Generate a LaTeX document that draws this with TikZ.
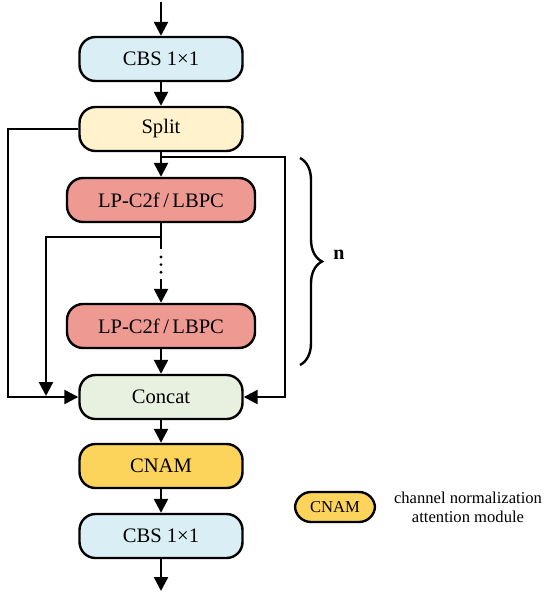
\documentclass[tikz,border=0pt]{standalone}
\usepackage{fontspec}
\setmainfont{Liberation Serif}
\usetikzlibrary{arrows.meta, positioning, decorations.pathreplacing}

\definecolor{cbsblue}{HTML}{DAEFF5}
\definecolor{splityellow}{HTML}{FFF2CD}
\definecolor{lpred}{HTML}{EE9A92}
\definecolor{concatgreen}{HTML}{E8F1DF}
\definecolor{cnamyellow}{HTML}{FCD35B}

\begin{document}
\begin{tikzpicture}[x=0.5pt, y=-0.5pt,
    block/.style={draw, line width=1.2pt, rounded corners=8pt, minimum width=81.5pt,
                  minimum height=22pt, inner sep=0pt, font=\fontsize{10.3}{12}\selectfont},
    arrow/.style={-{Triangle[length=7pt, width=7pt]}, line width=1.2pt},
    line/.style={line width=1.2pt},
    legend/.style={font=\fontsize{8.3}{9.5}\selectfont}
]
\useasboundingbox (0,0) rectangle (550,600);

% Main column
\node[block, fill=cbsblue] (cbsin) at (161,59) {CBS 1×1};
\node[block, fill=splityellow] (split) at (161,129) {Split};
\node[block, fill=lpred, minimum width=94pt] (lpa) at (161,200) {LP-C2f\,/\,LBPC};
\node[block, fill=lpred, minimum width=94pt] (lpb) at (161,326) {LP-C2f\,/\,LBPC};
\node[block, fill=concatgreen] (concat) at (161,397) {Concat};
\node[block, fill=cnamyellow] (cnam) at (161,466) {CNAM};
\node[block, fill=cbsblue] (cbsout) at (161,536) {CBS 1×1};

% Helper points
\coordinate (input) at (161,2);
\coordinate (output) at (161,591);
\coordinate (rjoin) at (161,157);
\coordinate (rside) at (285,397);
\coordinate (lside) at (8,397);
\coordinate (ljoin) at (161,237);
\coordinate (lend) at (46,396);
\coordinate (dotstart) at (161,249);
\coordinate (dota) at (161,257);
\coordinate (dotb) at (161,273);
\coordinate (dotend) at (161,279);

% Arrows along the column
\draw[arrow] (input) -- (cbsin);
\draw[arrow] (cbsin) -- (split);
\draw[arrow] (split) -- (lpa);
\draw[line] (lpa) -- (dotstart);
\draw[line width=1.6pt, line cap=round, dash pattern=on 0pt off 3.8pt] (dota) -- (dotb);
\draw[arrow] (dotend) -- (lpb);
\draw[arrow] (lpb) -- (concat);
\draw[arrow] (concat) -- (cnam);
\draw[arrow] (cnam) -- (cbsout);
\draw[arrow] (cbsout) -- (output);

% Shortcuts into Concat
\draw[arrow] (split.west) -| (lside) -- (concat.west);
\draw[arrow] (rjoin) -| (rside) -- (concat.east);
\draw[arrow] (ljoin) -| (lend);

% Repeat brace
\coordinate (bracetop) at (300,158);
\coordinate (bracebot) at (300,365);
\draw[line, decorate, decoration={brace, amplitude=11pt}] (bracetop) -- (bracebot);
\node[font=\fontsize{10}{12}\selectfont\bfseries] (nlabel) at (339,255) {n};

% Legend
\node[block, fill=cnamyellow, minimum width=40pt, minimum height=15pt,
      legend] (legcnam) at (335,507) {CNAM};
\node[legend, align=center] (legtext) at (468,507)
  {channel normalization\\attention module};
\end{tikzpicture}
\end{document}
